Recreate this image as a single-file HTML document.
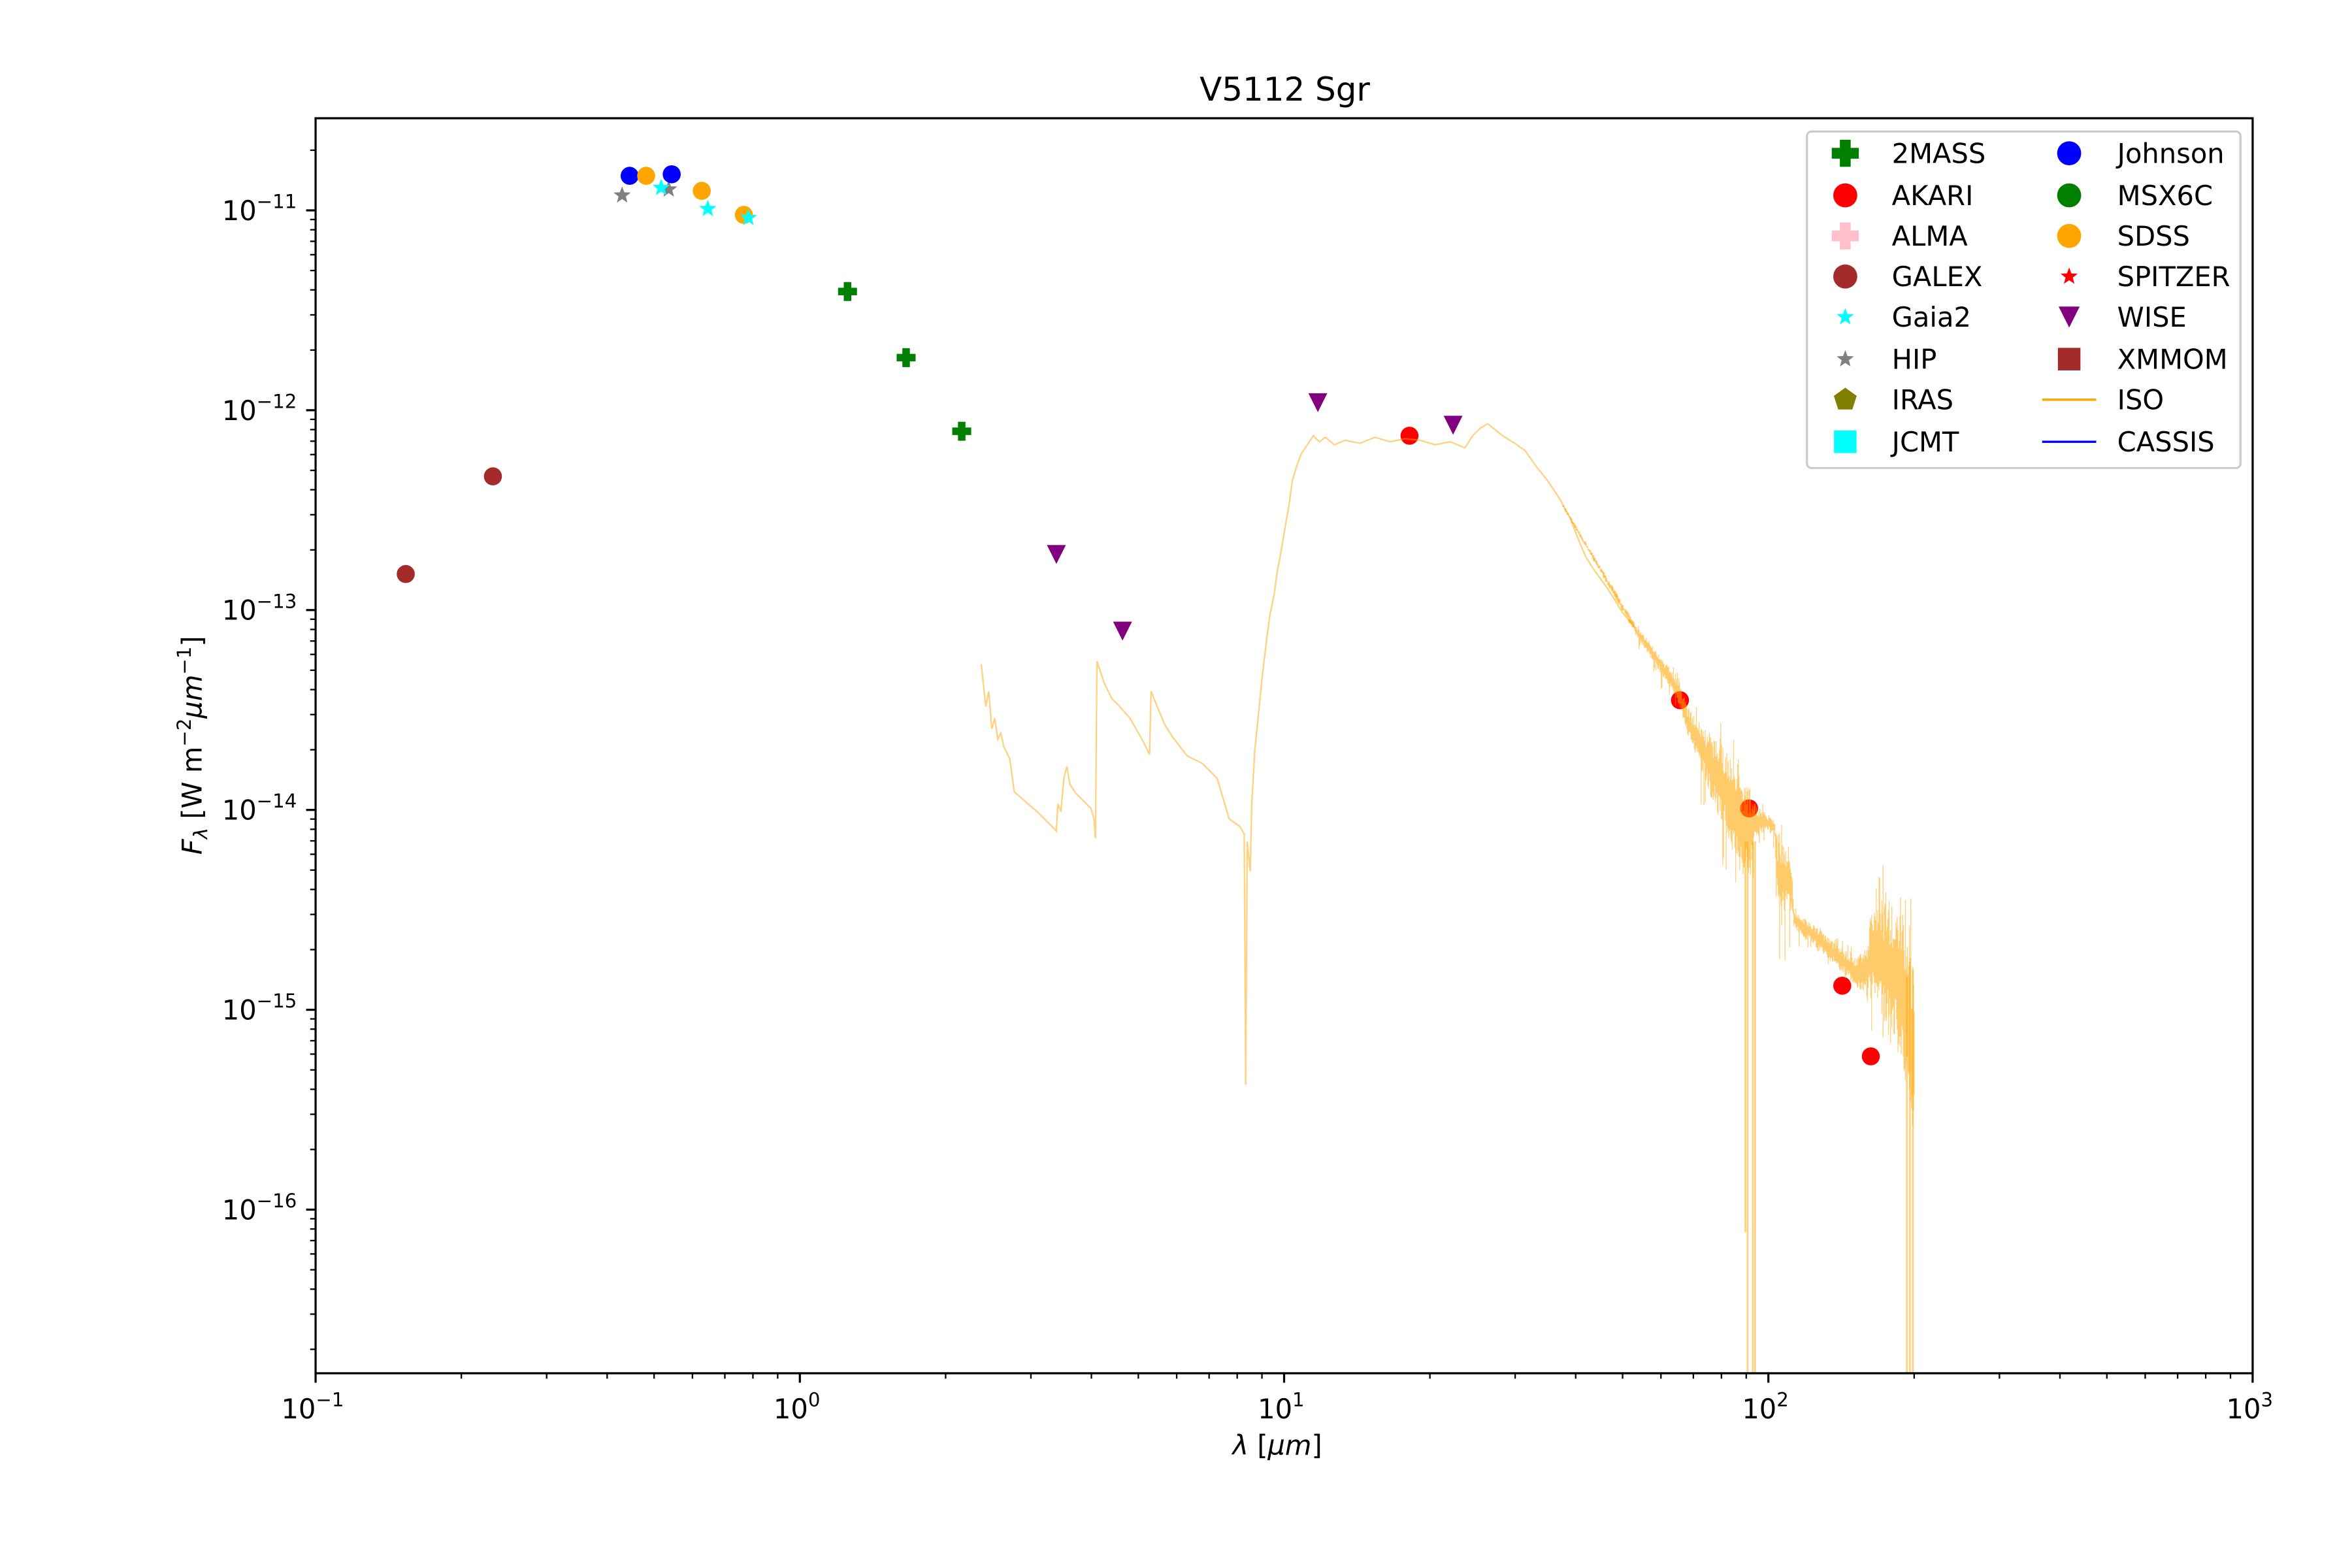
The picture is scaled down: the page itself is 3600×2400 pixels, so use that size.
<!DOCTYPE html>
<html><head><meta charset="utf-8"><style>html,body{margin:0;padding:0;background:#fff}svg{display:block}</style></head>
<body>
<svg id="s" xmlns="http://www.w3.org/2000/svg" width="3600" height="2400" viewBox="0 0 1565.2 1043.5" font-family="DejaVu Sans, Liberation Sans, sans-serif">
<rect width="1565.2" height="1043.5" fill="#fff"/>
<g id="g"></g>
</svg>
<script>
const L=210,R=1499.1,T=78.7,B=913.9;
const X=v=>L+(Math.log10(v)+1)*(R-L)/4;
const Y=e=>140+(-11-e)*133;
let h='';
let seed=12345;const rnd=()=>{seed=(seed*16807)%2147483647;return seed/2147483647;};
// markers
const circ=(x,y,c,r=6)=>`<circle cx="${x}" cy="${y}" r="${r}" fill="${c}"/>`;
function star(x,y,c,r=6){let p=[];for(let i=0;i<10;i++){const a=-Math.PI/2+i*Math.PI/5,rr=i%2?r*0.42:r;p.push((x+rr*Math.cos(a)).toFixed(2)+','+(y+rr*Math.sin(a)).toFixed(2));}return `<polygon points="${p.join(' ')}" fill="${c}"/>`;}
function plus(x,y,c,s=6.3,w=2.5){return `<rect x="${x-s}" y="${y-w}" width="${2*s}" height="${2*w}" fill="${c}"/><rect x="${x-w}" y="${y-s}" width="${2*w}" height="${2*s}" fill="${c}"/>`;}
function tri(x,y,c,s=6.3){return `<polygon points="${x-s},${y-s} ${x+s},${y-s} ${x},${y+s}" fill="${c}"/>`;}
[[270,382],[328,317]].forEach(p=>h+=circ(p[0],p[1],'#a52a2a'));
[[414,130],[445,126]].forEach(p=>h+=star(p[0],p[1],'#808080'));
[[419,117],[447,116]].forEach(p=>h+=circ(p[0],p[1],'#0000ff'));
[[430,117],[467,127],[495,143]].forEach(p=>h+=circ(p[0],p[1],'#ffa500'));
[[440,125],[471,139],[498,145]].forEach(p=>h+=star(p[0],p[1],'#00ffff'));
[[564,194],[603,238],[640,287]].forEach(p=>h+=plus(p[0],p[1],'#008000'));
[[703,369],[747,420],[877,268],[967,283]].forEach(p=>h+=tri(p[0],p[1],'#800080'));
[[938,290],[1118,466],[1164,538],[1226,656],[1245,703]].forEach(p=>h+=circ(p[0],p[1],'#ff0000'));
// ISO spectrum
const iso=[[653,442],[656,470],[658,460],[660,485],[662,478],[664,492],[666,488],[668,497],[672,505],[675,527],[690,540],[703,553],[704,535],[706,540],[708,518],[710,510],[712,522],[716,528],[720,532],[726,538],[728,545],[729,558],[730,440],[735,455],[740,465],[745,470],[752,478],[760,492],[765,502],[766,460],[770,470],[775,482],[780,490],[790,503],[800,508],[810,518],[818,545],[825,550],[828,555],[829,722],[830,560],[832,580],[833,535],[835,500],[838,470],[840,450],[843,425],[845,410],[848,395],[850,380],[852,370],[855,352],[858,335],[860,320],[863,310],[866,302],[870,296],[874,290],[878,294],[882,291],[888,296],[895,293],[905,295],[915,291],[925,294],[935,292],[945,293],[955,296],[965,294],[975,298],[980,290],[985,285],[990,282],[995,286],[1000,290],[1008,295],[1015,300],[1022,310],[1030,320],[1038,332],[1045,345],[1050,358],[1055,370],[1060,378],[1065,385],[1070,392],[1075,400],[1080,408],[1085,414],[1088,418]];
// jitter the smooth part slightly
let pts=iso.map(p=>p[0]+','+p[1]);
h+='<g stroke="#ffa500" stroke-opacity="0.5" fill="none" stroke-width="1">';
h+='<polyline points="'+pts.join(' ')+'"/>';
// small noise from 1040 to 1088
for(let x=1040;x<1088;x+=0.5){let yc=345+(x-1045)*(418-345)/43;let a=1+ (x-1040)/20;h+=`<line x1="${x}" y1="${(yc-a*rnd()).toFixed(1)}" x2="${x}" y2="${(yc+a*rnd()).toFixed(1)}"/>`;}
h+='</g>';
// noisy envelope region
const env=[[1088,415,422],[1100,430,440],[1117,452,468],[1123,470,490],[1132,481,514],[1146,495,549],[1157,515,580],[1165,525,585],[1168,535,560],[1175,541,553],[1181,545,556],[1183,557,605],[1192,565,610],[1194,605,618],[1210,618,632],[1234,637,655],[1243,630,665],[1246,600,660],[1255,592,690],[1265,600,705],[1268,615,720],[1274,640,760]];
function ev(x){for(let i=0;i<env.length-1;i++){const a=env[i],b=env[i+1];if(x>=a[0]&&x<=b[0]){const t=(x-a[0])/(b[0]-a[0]);return [a[1]+t*(b[1]-a[1]),a[2]+t*(b[2]-a[2])];}}return env[env.length-1].slice(1);}
h+='<g stroke="#ffa500" stroke-opacity="0.5" stroke-width="0.6">';
for(let x=1088;x<=1274;x+=0.45){const [t,b]=ev(x);const w=b-t;let y1=t+w*0.35*rnd(),y2=b-w*0.35*rnd();
 if(rnd()<0.08){y1=t-w*0.3*rnd();} if(rnd()<0.08){y2=b+w*0.8*rnd();}
 h+=`<line x1="${x.toFixed(2)}" y1="${y1.toFixed(1)}" x2="${x.toFixed(2)}" y2="${y2.toFixed(1)}"/>`;}
h+='</g>';
h+='<g stroke="#ffa500" stroke-opacity="0.5" stroke-width="1.2">';
h+='<line x1="1161.5" y1="560" x2="1161.5" y2="820"/><line x1="1163" y1="560" x2="1163" y2="914"/><line x1="1166.5" y1="560" x2="1166.5" y2="914"/><line x1="1168" y1="560" x2="1168" y2="914"/>';
h+='<line x1="1269" y1="650" x2="1269" y2="914"/><line x1="1271" y1="640" x2="1271" y2="914"/><line x1="1273" y1="645" x2="1273" y2="914"/>';
h+='</g>';
// axes frame
h+=`<rect x="${L}" y="${T}" width="${R-L}" height="${B-T}" fill="none" stroke="#000" stroke-width="1.4"/>`;
for(let e=-1;e<=3;e++){const x=X(Math.pow(10,e));h+=`<line x1="${x}" y1="${B}" x2="${x}" y2="${B+6.3}" stroke="#000" stroke-width="1.4"/>`;
 h+=`<text x="${x-2}" y="${B+30}" font-size="18.1" text-anchor="middle">10<tspan dy="-8" font-size="12.7">${e<0?'\u2212'+(-e):e}</tspan></text>`;
 if(e<3)for(let m=2;m<=9;m++){const xm=X(m*Math.pow(10,e));h+=`<line x1="${xm}" y1="${B}" x2="${xm}" y2="${B+3.6}" stroke="#000" stroke-width="1"/>`;}}
for(let e=-17;e<=-10;e++){for(let m=1;m<=9;m++){const y=Y(e+Math.log10(m));if(y<T-0.5||y>B+0.5)continue;
 if(m==1){h+=`<line x1="${L}" y1="${y}" x2="${L-6.3}" y2="${y}" stroke="#000" stroke-width="1.4"/>`;
 h+=`<text x="${L-12.5}" y="${y+6.5}" font-size="18.1" text-anchor="end">10<tspan dy="-8" font-size="12.7">\u2212${-e}</tspan></text>`;}
 else h+=`<line x1="${L}" y1="${y}" x2="${L-3.6}" y2="${y}" stroke="#000" stroke-width="1"/>`;}}
h+=`<text x="855" y="67" font-size="21.7" text-anchor="middle">V5112 Sgr</text>`;
h+=`<text x="850" y="968" font-size="18.1" text-anchor="middle"><tspan font-style="italic">λ</tspan> [<tspan font-style="italic">μm</tspan>]</text>`;
h+=`<text transform="translate(134,496) rotate(-90)" font-size="18.1" text-anchor="middle"><tspan font-style="italic">F</tspan><tspan font-style="italic" font-size="12.7" dy="4">λ</tspan><tspan dy="-4"> [W m</tspan><tspan dy="-7" font-size="12.7">−2</tspan><tspan dy="7" font-style="italic">μm</tspan><tspan dy="-7" font-size="12.7">−1</tspan><tspan dy="7">]</tspan></text>`;
// legend
h+=`<rect x="1202.5" y="87.5" width="288.5" height="224" rx="3" fill="#fff" fill-opacity="0.8" stroke="#cccccc" stroke-width="1.4"/>`;
const rows=[102,130,157,184,211,239,266,294];
const c1=[['2MASS',(x,y)=>plus(x,y,'#008000',9,3.6)],['AKARI',(x,y)=>circ(x,y,'#ff0000',8)],['ALMA',(x,y)=>plus(x,y,'#ffc0cb',9,3.6)],['GALEX',(x,y)=>circ(x,y,'#a52a2a',8)],['Gaia2',(x,y)=>star(x,y,'#00ffff',6)],['HIP',(x,y)=>star(x,y,'#808080',6)],['IRAS',(x,y)=>`<polygon points="${x},${y-8} ${x+7.6},${y-2.5} ${x+4.7},${y+6.5} ${x-4.7},${y+6.5} ${x-7.6},${y-2.5}" fill="#808000"/>`],['JCMT',(x,y)=>`<rect x="${x-7.5}" y="${y-7.5}" width="15" height="15" fill="#00ffff"/>`]];
const c2=[['Johnson',(x,y)=>circ(x,y,'#0000ff',8)],['MSX6C',(x,y)=>circ(x,y,'#008000',8)],['SDSS',(x,y)=>circ(x,y,'#ffa500',8)],['SPITZER',(x,y)=>star(x,y,'#ff0000',6)],['WISE',(x,y)=>tri(x,y,'#800080',7)],['XMMOM',(x,y)=>`<rect x="${x-7.5}" y="${y-7.5}" width="15" height="15" fill="#a52a2a"/>`],['ISO',(x,y)=>`<line x1="${x-18}" y1="${y}" x2="${x+18}" y2="${y}" stroke="#ffa500" stroke-width="1.5"/>`],['CASSIS',(x,y)=>`<line x1="${x-18}" y1="${y}" x2="${x+18}" y2="${y}" stroke="#0000ff" stroke-width="1.5"/>`]];
rows.forEach((y,i)=>{h+=c1[i][1](1228,y);h+=`<text x="1259" y="${y+6.5}" font-size="18.1">${c1[i][0]}</text>`;
 h+=c2[i][1](1377,y);h+=`<text x="1409" y="${y+6.5}" font-size="18.1">${c2[i][0]}</text>`;});
document.getElementById('g').innerHTML=h;
</script>
</body></html>
